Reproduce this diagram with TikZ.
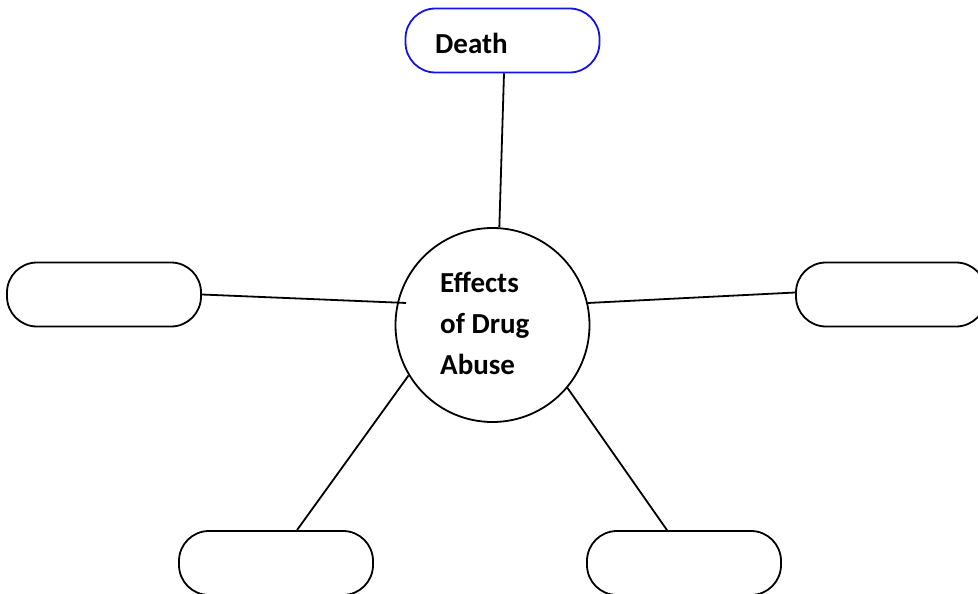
\documentclass[tikz,border=0pt]{standalone}
\usepackage{fontspec}
\setmainfont{Carlito}
\usetikzlibrary{calc}
\definecolor{dblue}{RGB}{20,20,225}
\begin{document}
\begin{tikzpicture}[x=1pt,y=-1pt,
  pill/.style={draw=black, line width=1.8pt, rounded corners=30pt, minimum width=194pt, minimum height=64pt, inner sep=0pt},
  hub/.style={draw, circle, line width=1.8pt, minimum size=194pt, inner sep=0pt},
  lbl/.style={font=\bfseries\fontsize{29}{34}\selectfont, anchor=base west, inner sep=0pt},
  link/.style={line width=1.8pt}]
\useasboundingbox (0,0) rectangle (978,594);
\clip (0,0) rectangle (978,594);
\fill[white] (0,0) rectangle (978,594);
\node[pill, draw=dblue] (D) at (502.5,40.5) {};
\node[lbl] (Dt) at (435,54) {Death};
\node[hub] (C) at (492.5,325) {};
\node[lbl] (C1) at (440,292) {Effects};
\node[lbl] (C2) at (440,333) {of Drug};
\node[lbl] (C3) at (440,374) {Abuse};
\node[pill] (L) at (104,294.5) {};
\node[pill, minimum width=190pt] (R) at (891,294.5) {};
\node[pill] (BL) at (276,563) {};
\node[pill] (BR) at (684,563) {};
\draw[link] ([xshift=1.5pt]D.south) -- (C.86);
\draw[link] (L.east) -- ([xshift=9pt]C.167);
\draw[link] (C.13) -- ([yshift=2pt]R.west);
\draw[link] (C.211) -- ([xshift=21pt]BL.north);
\draw[link] (C.-40) -- ([xshift=-17pt]BR.north);
\end{tikzpicture}
\end{document}
